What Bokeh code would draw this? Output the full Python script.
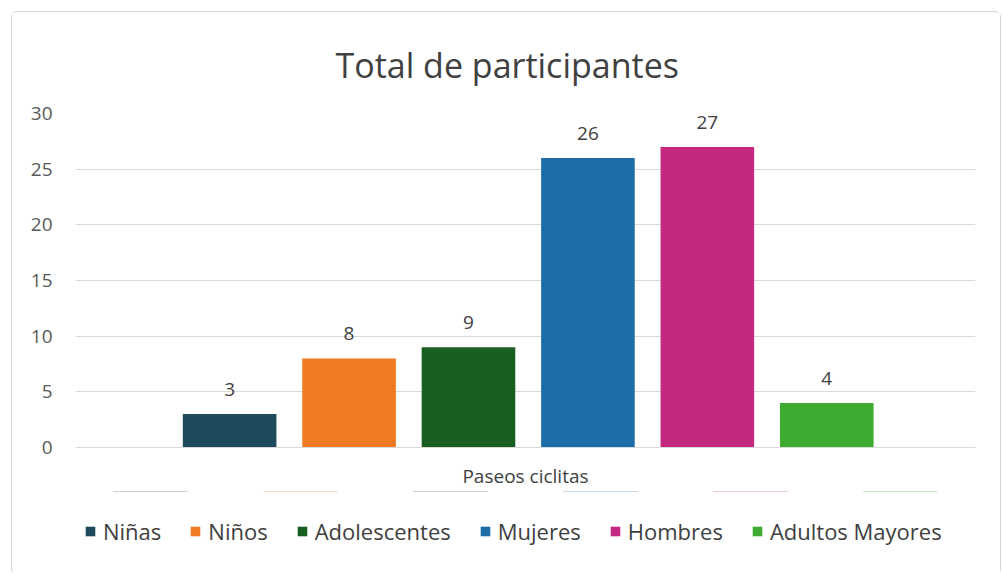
from bokeh.plotting import figure
from bokeh.layouts import column
from bokeh.models import ColumnDataSource, FactorRange, Range1d, LabelSet, Legend, LegendItem
from bokeh.transform import dodge
from bokeh.core.properties import value
from bokeh.embed import file_html
from bokeh.resources import INLINE

group = ["Paseos ciclitas"]
categories = ["Niñas", "Niños", "Adolescentes", "Mujeres", "Hombres", "Adultos Mayores"]
values = [3, 8, 9, 26, 27, 4]
colors = ["#1E4A5E", "#F07A22", "#1A5E22", "#1C6DA8", "#C42880", "#3DAA30"]
y_ticks = [0, 5, 10, 15, 20, 25, 30]

FONT = "Open Sans"

p = figure(frame_width=900, frame_height=334, x_range=FactorRange(*group, range_padding=0),
           y_range=Range1d(0, 30), output_backend="svg", toolbar_location=None,
           min_border_left=63, min_border_right=25, min_border_top=101, min_border_bottom=40)

p.title.text = "Total de participantes"
p.title.align = "left"
p.title.offset = 260
p.title.standoff = 51
p.title.text_font = FONT
p.title.text_font_size = "34px"
p.title.text_font_style = "normal"
p.title.text_color = "#404040"

p.outline_line_color = None
p.background_fill_color = "white"
p.border_fill_color = "white"

p.xgrid.grid_line_color = None
p.ygrid.grid_line_color = "#d9d9d9"
p.ygrid.grid_line_width = 1

p.yaxis.ticker = y_ticks
p.yaxis.axis_line_color = None
p.yaxis.major_tick_line_color = None
p.yaxis.minor_tick_line_color = None
p.yaxis.major_label_text_font = FONT
p.yaxis.major_label_text_font_size = "19px"
p.yaxis.major_label_text_color = "#595959"
p.yaxis.major_label_standoff = 17

p.xaxis.axis_line_color = "#d9d9d9"
p.xaxis.major_tick_line_color = None
p.xaxis.minor_tick_line_color = None
p.xaxis.major_label_text_font = FONT
p.xaxis.major_label_text_font_size = "19px"
p.xaxis.major_label_text_color = "#404040"
p.xaxis.major_label_standoff = 9

bar_w = 0.104
step = 0.1327
center = 0.003
n = len(categories)
for i, (cat, val, col) in enumerate(zip(categories, values, colors)):
    off = center + (i - (n - 1) / 2) * step
    src = ColumnDataSource(dict(x=group, top=[val], lab=[str(val)]))
    xd = dodge("x", off, range=p.x_range)
    p.vbar(x=xd, top="top", width=bar_w, source=src, fill_color=col, line_color=None)
    lbl = LabelSet(x=xd, y="top", text="lab", source=src, text_align="center",
                   text_baseline="bottom", y_offset=18, text_font=value(FONT),
                   text_font_size="19px", text_color="#404040")
    p.add_layout(lbl)

# legend strip below the chart (its bars lie outside its visible range)
leg = figure(width=988, height=83, x_range=FactorRange(*categories), y_range=Range1d(-2, -1),
             output_backend="svg", toolbar_location=None, min_border=0)
leg.axis.visible = False
leg.grid.grid_line_color = None
leg.outline_line_color = None
leg.background_fill_color = "white"
leg.border_fill_color = "white"
items = []
for cat, val, col in zip(categories, values, colors):
    r = leg.vbar(x=[cat], top=[val], width=0.5, fill_color=col, line_color=None)
    items.append(LegendItem(label=cat, renderers=[r]))

legend = Legend(items=items, orientation="horizontal", location=(9, 28),
                glyph_width=12, glyph_height=12, label_standoff=7, spacing=28,
                label_text_font=FONT, label_text_font_size="22px", label_text_color="#404040",
                border_line_color=None, background_fill_alpha=0, margin=0, padding=0)
leg.add_layout(legend, "center")

layout = column(p, leg, spacing=0)
layout.styles = {"margin-left": "11px", "margin-top": "11px",
                 "border": "1px solid #d4d4d4", "border-radius": "6px"}

open("out.html", "w").write(file_html(layout, INLINE))
